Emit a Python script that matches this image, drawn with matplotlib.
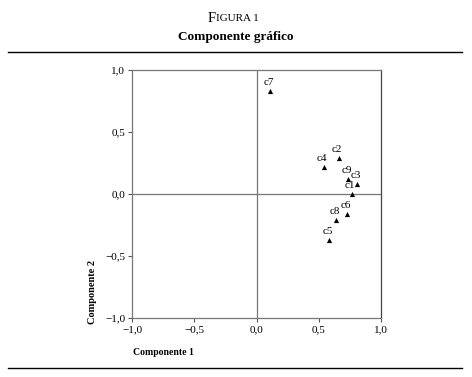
import matplotlib
matplotlib.use("Agg")
import matplotlib.pyplot as plt
from matplotlib.lines import Line2D

labels = ["c1", "c2", "c3", "c4", "c5", "c6", "c7", "c8", "c9"]
comp1 = [0.765, 0.66, 0.81, 0.54, 0.585, 0.727, 0.108, 0.64, 0.737]
comp2 = [0.00, 0.29, 0.083, 0.215, -0.371, -0.159, 0.83, -0.212, 0.12]
ticks = [-1.0, -0.5, 0.0, 0.5, 1.0]
tick_labels = ["\u22121,0", "\u22120,5", "0,0", "0,5", "1,0"]

plt.rcParams['font.family'] = ['Liberation Serif', 'DejaVu Serif']

fig = plt.figure(figsize=(4.72, 3.77), dpi=100)
ax = fig.add_axes([0.2797, 0.1565, 0.5275, 0.658])

ax.axvline(0, color="#777777", lw=0.9, zorder=1)
ax.axhline(0, color="#777777", lw=0.9, zorder=1)
ax.scatter(comp1, comp2, marker="^", s=14, color="black", zorder=3, linewidths=0)
for x, y, t in zip(comp1, comp2, labels):
    ax.annotate(t, (x, y), xytext=(-1, 3), textcoords="offset points",
                ha="center", va="bottom", fontsize=8)

ax.set_xlim(-1, 1)
ax.set_ylim(-1, 1)
ax.set_xticks(ticks)
ax.set_xticklabels(tick_labels)
ax.set_yticks(ticks)
ax.set_yticklabels(tick_labels)
ax.tick_params(direction="out", length=3, width=0.8, color="#555555",
               labelsize=8, pad=2, top=False, right=False)
for sp in ax.spines.values():
    sp.set_color("#777777")
    sp.set_linewidth(0.9)
ax.spines["right"].set_color("#444444")

fig.text(0.282, 0.064, "Componente 1", fontsize=7, fontweight="bold",
         ha="left", va="center")
fig.text(0.195, 0.226, "Componente 2", fontsize=7.5, fontweight="bold",
         rotation=90, ha="center", va="center")

# Title (small caps style)
fig.text(0.458, 0.950, "F", fontsize=10.5, ha="right", va="center")
fig.text(0.458, 0.950, "IGURA 1", fontsize=8, ha="left", va="center")
fig.text(0.5, 0.902, "Componente gráfico", fontsize=9.5, fontweight="bold",
         ha="center", va="center")

fig.add_artist(Line2D([0.017, 0.979], [0.862, 0.862], color="black", lw=1.0,
                      transform=fig.transFigure))
fig.add_artist(Line2D([0.017, 0.979], [0.024, 0.024], color="black", lw=1.0,
                      transform=fig.transFigure))

fig.savefig("out.png", dpi=100)
